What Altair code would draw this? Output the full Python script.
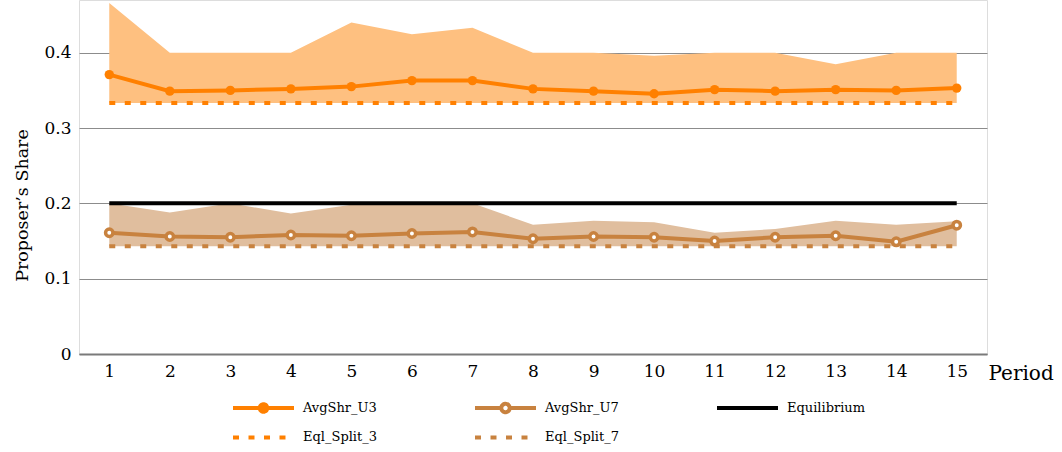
import altair as alt
import pandas as pd

# ---- data ----
periods = list(range(1, 16))
avg_u3 = [0.371, 0.349, 0.350, 0.352, 0.355, 0.363, 0.363, 0.352, 0.349, 0.3455, 0.351, 0.349, 0.351, 0.350, 0.353]
u3_high = [0.466, 0.400, 0.400, 0.400, 0.440, 0.4245, 0.433, 0.400, 0.400, 0.396, 0.400, 0.400, 0.3846, 0.400, 0.400]
u3_low = [0.3333] * 15
avg_u7 = [0.161, 0.156, 0.155, 0.158, 0.157, 0.160, 0.162, 0.153, 0.156, 0.155, 0.150, 0.155, 0.157, 0.149, 0.171]
u7_high = [0.200, 0.188, 0.200, 0.1865, 0.198, 0.199, 0.200, 0.1716, 0.177, 0.175, 0.161, 0.166, 0.177, 0.1716, 0.1764]
u7_low = [0.1429] * 15
equilibrium = [0.2] * 15
eql_split_3 = [0.3333] * 15
eql_split_7 = [0.1429] * 15

y_ticks = [0, 0.1, 0.2, 0.3, 0.4]
# legend entries in column-major order (2 rows x 3 columns)
series_names = ["AvgShr_U3", "Eql_Split_3", "AvgShr_U7", "Eql_Split_7", "Equilibrium"]

# ---- styles ----
ORANGE = "#FF8000"
ORANGE_BAND = "#FEC080"
BROWN = "#C8823F"
BROWN_BAND = "#E0BE9E"
FONT = "DejaVu Serif"
series_colors = [ORANGE, ORANGE, BROWN, BROWN, "#000000"]
dot = "M-1,0H1M0.1246,0A0.1246,0.1246,0,1,1,-0.1246,0A0.1246,0.1246,0,1,1,0.1246,0M0.059,0A0.059,0.059,0,1,1,-0.059,0A0.059,0.059,0,1,1,0.059,0"
ring = "M-1,0H-0.1377M0.1377,0H1M0.1377,0A0.1377,0.1377,0,1,1,-0.1377,0A0.1377,0.1377,0,1,1,0.1377,0"
plain = "M-1,0H1"
series_shapes = [dot, plain, ring, plain, plain]
series_dash = [[1, 0], [6, 9.5], [1, 0], [6, 9.5], [1, 0]]

df = pd.DataFrame({
    "Period": periods,
    "u3": avg_u3, "u3_hi": u3_high, "u3_lo": u3_low,
    "u7": avg_u7, "u7_hi": u7_high, "u7_lo": u7_low,
    "eq": equilibrium, "e3": eql_split_3, "e7": eql_split_7,
})

xs = alt.Scale(domain=[0.5, 15.5], nice=False, zero=False)
ys = alt.Scale(domain=[0, 0.47], nice=False)

x_axis = alt.Axis(
    values=periods, format="d", title="Period", grid=False, ticks=False,
    domain=True, domainColor="#7a7a7a", domainWidth=2,
    labelFont=FONT, labelFontSize=17, labelColor="black", labelPadding=9,
    titleFont=FONT, titleFontSize=20, titleFontWeight="normal", titleColor="black",
    titleX=909, titleY=25, titleAlign="left", titleBaseline="alphabetic",
)
y_axis = alt.Axis(
    values=y_ticks, format=".1~f", title="Proposer’s Share",
    grid=True, gridColor="#8c8c8c", gridWidth=1, domain=False, ticks=False,
    labelFont=FONT, labelFontSize=17, labelColor="black", labelPadding=8,
    titleFont=FONT, titleFontSize=17.5, titleFontWeight="normal", titleColor="black",
    titleX=-52, titleY=205, titleAngle=-90, titleAlign="center", titleBaseline="alphabetic",
)

X = alt.X("Period:Q", scale=xs, axis=x_axis)


def Y(field):
    return alt.Y(f"{field}:Q", scale=ys, axis=y_axis)


base = alt.Chart(df)

band3 = base.mark_area(color=ORANGE_BAND, opacity=1).encode(x=X, y=Y("u3_hi"), y2="u3_lo:Q")
band7 = base.mark_area(color=BROWN_BAND, opacity=1).encode(x=X, y=Y("u7_hi"), y2="u7_lo:Q")
eq_line = base.mark_line(color="black", strokeWidth=4).encode(x=X, y=Y("eq"))
e3_line = base.mark_line(color=ORANGE, strokeWidth=4, strokeDash=[6, 9.5], strokeCap="butt").encode(x=X, y=Y("e3"))
e7_line = base.mark_line(color=BROWN, strokeWidth=4, strokeDash=[6, 9.5], strokeCap="butt").encode(x=X, y=Y("e7"))
u3_line = base.mark_line(color=ORANGE, strokeWidth=4).encode(x=X, y=Y("u3"))
u3_pts = base.mark_point(shape="circle", filled=True, color=ORANGE, size=88, opacity=1).encode(x=X, y=Y("u3"))
u7_line = base.mark_line(color=BROWN, strokeWidth=4).encode(x=X, y=Y("u7"))
u7_pts = base.mark_point(shape="circle", fill="white", stroke=BROWN, strokeWidth=3.5, size=55,
                         opacity=1, fillOpacity=1).encode(x=X, y=Y("u7"))

# legend helper: points placed outside the clipped plot, used only to build the legend
legend_df = pd.DataFrame({"series": series_names, "Period": [1] * 5, "off": [-1] * 5})
leg = alt.Legend(
    title=None, orient="none", legendX=152, legendY=400, columns=3,
    columnPadding=95, rowPadding=13.4, clipHeight=16,
    symbolSize=3721, symbolStrokeWidth=4, symbolOffset=0, symbolOpacity=1,
    labelFont=FONT, labelFontSize=13, labelColor="black", labelOffset=7,
    padding=0,
)
legend_layer = alt.Chart(legend_df).mark_point(clip=True, filled=False, strokeWidth=4, size=3721, opacity=1).encode(
    x=X,
    y=Y("off"),
    color=alt.Color("series:N", scale=alt.Scale(domain=series_names, range=series_colors), legend=leg),
    shape=alt.Shape("series:N", scale=alt.Scale(domain=series_names, range=series_shapes), legend=leg),
    strokeDash=alt.StrokeDash("series:N", scale=alt.Scale(domain=series_names, range=series_dash), legend=leg),
)

chart = alt.layer(
    band3, band7, eq_line, e3_line, e7_line, u3_line, u3_pts, u7_line, u7_pts, legend_layer
).properties(
    width=908, height=354,
    autosize=alt.AutoSizeParams(type="none"),
    padding={"left": 79, "top": 0, "right": 75, "bottom": 98},
).configure_view(stroke=None).configure(background="white", font=FONT).configure_axis(
    labelFont=FONT, titleFont=FONT
).configure_legend(labelFont=FONT)

chart.save("out.html", embed_options={"renderer": "svg", "actions": False})
